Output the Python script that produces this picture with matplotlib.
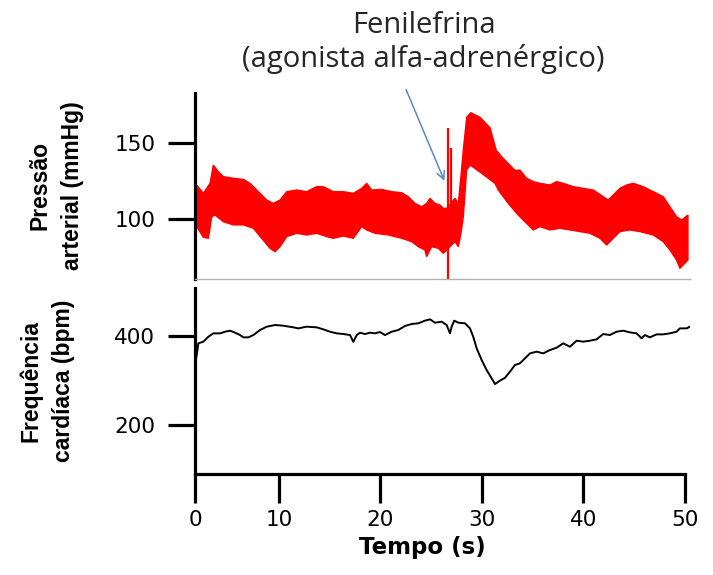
import matplotlib.pyplot as plt

# =====================
# Dados
# =====================
# pressão arterial: envelope superior / inferior da faixa pulsátil
bp_up_t = [1.72, 1.89, 2.54, 3.2, 3.53, 4.02, 4.52, 5.5, 6.49, 7.14, 7.8, 8.79, 9.44,
           10.1, 10.76, 11.74, 12.73, 13.71, 14.37, 15.35, 16.34, 17.32, 18.15, 18.64,
           19.13, 20.12, 21.1, 22.09, 22.74, 23.4, 24.06, 24.55, 24.88, 25.37, 25.86,
           26.19, 26.52, 27.34, 27.67, 27.93, 28.16, 28.5, 28.9, 29.8, 30.8, 31.4,
           31.94, 33.25, 33.74, 34.4, 35.06, 35.71, 36.7, 37.36, 38.01, 39.0, 39.98,
           40.97, 41.95, 42.44, 42.94, 43.6, 44.26, 44.91, 45.89, 46.88, 47.86, 48.52,
           49.18, 49.67, 50.3]
bp_upper = [121, 122.4, 116.9, 123.5, 135.5, 131.1, 127.9, 126.8, 126.1, 123.5, 119.1,
            112.5, 110.3, 112.5, 118, 119.1, 118, 121.3, 121.3, 118, 118, 116.9, 120.2,
            123.5, 119.1, 119.5, 118, 117.3, 114.7, 110.3, 108.1, 110.3, 113.6, 110.3,
            109.2, 107, 107, 113.6, 110.3, 127.9, 145.4, 167, 170, 167, 160, 145.4,
            141, 132, 132.2, 126.8, 124.6, 123.5, 122.4, 124.6, 123.5, 121.3, 120.2,
            119.1, 114.7, 112.5, 115.8, 120.2, 122.4, 123.5, 121.3, 118, 114.7, 108.1,
            101.5, 99.3, 102.6]

bp_lo_t = [1.72, 1.89, 2.54, 3.04, 3.37, 3.69, 4.52, 5.5, 6.49, 7.47, 8.29, 9.11, 9.61,
           10.1, 10.76, 11.74, 12.73, 13.71, 14.7, 15.35, 16.34, 17.32, 18.15, 18.64,
           19.46, 20.77, 22.09, 23.07, 23.72, 24.38, 24.55, 25.04, 25.7, 26.19, 26.52,
           27.34, 27.67, 27.93, 28.16, 28.49, 28.82, 29.31, 29.97, 30.62, 31.28, 31.61,
           32.59, 33.58, 34.4, 35.06, 35.71, 36.7, 37.69, 38.67, 39.66, 40.64, 41.63,
           42.29, 42.94, 43.6, 44.58, 45.57, 46.88, 47.86, 48.52, 49.18, 49.51, 50.3]
bp_lower = [96, 95, 88, 87.3, 101.5, 102.6, 98.2, 96.1, 96.1, 93.9, 87.3, 80.7, 78.5,
            81.8, 88.4, 90.6, 89.5, 90.6, 88.4, 87.3, 88.8, 87.3, 95, 92.8, 90.6, 89.5,
            87.3, 85.1, 81.8, 79.6, 75.2, 81.8, 80.7, 77.4, 79.6, 85.1, 81.8, 90.6,
            101.5, 132.2, 135.5, 133.3, 130.1, 126.8, 123.5, 119.1, 110.3, 102.6, 97.1,
            92.8, 95, 92.8, 93.9, 92.8, 91.7, 90.6, 87.3, 82.9, 87.3, 91.7, 92.8, 91.7,
            89.5, 85.1, 79.6, 73, 67.5, 73]

# picos no momento da injeção
spike_t = [26.65, 26.95]
spike_top = [159.9, 146.5]
spike_bottom = [55, 86]

# frequência cardíaca
hr_t = [1.75, 1.89, 2.05, 2.54, 3.04, 3.53, 4.19, 4.68, 5.17, 5.67, 6.16, 6.49, 6.98,
        7.47, 8.13, 8.79, 9.61, 10.43, 11.41, 11.9, 12.73, 13.71, 14.37, 15.02, 15.68,
        16.34, 17.0, 17.32, 17.66, 17.98, 18.47, 18.97, 19.46, 19.95, 20.44, 21.1,
        21.75, 22.41, 23.07, 23.72, 24.38, 24.88, 25.37, 26.03, 26.52, 26.85, 27.01,
        27.27, 27.67, 28.33, 28.82, 29.14, 29.48, 29.97, 30.46, 30.96, 31.28, 31.77,
        32.27, 32.76, 33.25, 33.74, 34.24, 34.73, 35.39, 36.04, 36.7, 37.36, 38.01,
        38.67, 39.33, 39.98, 40.64, 41.3, 41.95, 42.61, 43.27, 43.92, 44.58, 45.24,
        45.73, 46.06, 46.55, 47.21, 47.86, 48.52, 49.18, 49.51, 50.17, 50.5]
hr = [340, 357.3, 383.5, 387.3, 398.5, 406, 406, 409.7, 412, 407.5, 402.2, 397, 397,
      402.2, 413.5, 421, 424.7, 423.2, 419.5, 417.2, 421, 419.5, 415, 409.7, 406,
      404.5, 402.2, 387, 402.2, 407.5, 404.5, 407.5, 406, 409, 402.2, 409.7,
      413.5, 422.5, 427, 428.5, 434.5, 437.5, 430, 432.2, 424.7, 406, 421,
      434.5, 430, 428.5, 417.2, 398.5, 372.3, 346.1, 323.6, 304.9, 292.1, 299.6,
      306, 319.9, 334.8, 338.6, 349.8, 361, 364.8, 361, 368.5, 373.8, 383.5,
      376, 389.5, 387.3, 389.5, 392.5, 404.5, 402.2, 409.7, 412, 408.2, 406,
      394.8, 402.2, 397, 403.7, 403.7, 406, 409.7, 417.2, 417.2, 421]

x_ticks = [1.72, 10, 20, 30, 40, 50]
x_labels = ['0', '10', '20', '30', '40', '50']

# =====================
# Figura
# =====================
fig = plt.figure(figsize=(7.13, 5.75), dpi=100)
ax1 = fig.add_axes([0.2735, 0.5148, 0.6942, 0.3235])
ax2 = fig.add_axes([0.2735, 0.1757, 0.6942, 0.3235])

spine_w = 2.3
x_range = (1.72, 50.5)

# painel superior
ax1.fill(bp_up_t + bp_lo_t[::-1], bp_upper + bp_lower[::-1], color='#ff0000',
         linewidth=1.0, edgecolor='#ff0000')
ax1.vlines(spike_t, spike_bottom, spike_top, color='#ff0000', linewidth=1.6)
ax1.set_xlim(*x_range)
ax1.set_ylim(60.5, 183)
ax1.set_yticks([100, 150])
ax1.set_xticks([])
for s in ['top', 'right']:
    ax1.spines[s].set_visible(False)
ax1.spines['bottom'].set_color('#b0b0b0')
ax1.spines['bottom'].set_linewidth(1)
ax1.spines['left'].set_linewidth(spine_w)

# painel inferior
ax2.plot(hr_t, hr, color='black', linewidth=1.4)
ax2.set_xlim(*x_range)
ax2.set_ylim(90, 508)
ax2.set_yticks([200, 400])
ax2.set_xticks(x_ticks)
ax2.set_xticklabels(x_labels)
for s in ['top', 'right']:
    ax2.spines[s].set_visible(False)
ax2.spines['left'].set_linewidth(spine_w)
ax2.spines['bottom'].set_linewidth(spine_w)
ax2.spines['bottom'].set_bounds(1.72, 50)

for ax in (ax1, ax2):
    ax.tick_params(axis='y', length=19.5, width=spine_w, pad=9, labelsize=15.5,
                   colors='black')
    ax.tick_params(axis='x', length=21, width=spine_w, pad=5, labelsize=15.5)
    ax.patch.set_visible(False)

# rótulos dos eixos
ylab = dict(rotation=90, ha='center', va='center', fontsize=16.5, fontweight='bold',
            family='Liberation Sans', linespacing=1.5)
fig.text(0.079, 0.677, 'Pressão\narterial (mmHg)', **ylab)
fig.text(0.066, 0.337, 'Frequência\ncardíaca (bpm)', **ylab)
fig.text(0.592, 0.047, 'Tempo (s)', ha='center', va='center', fontsize=16.5,
         fontweight='bold')

# anotação
fig.text(0.594, 0.926, 'Fenilefrina\n(agonista alfa-adrenérgico)', ha='center',
         va='center', fontsize=21, family='Open Sans', color='#262626',
         linespacing=1.2)
ax1.annotate('', xy=(26.4, 123.5), xytext=(405 / 713, 1 - 87 / 575),
             textcoords='figure fraction', annotation_clip=False,
             arrowprops=dict(arrowstyle='->', color='#5b87c5', linewidth=1.1,
                             mutation_scale=14))

fig.savefig('out.png', dpi=100)
